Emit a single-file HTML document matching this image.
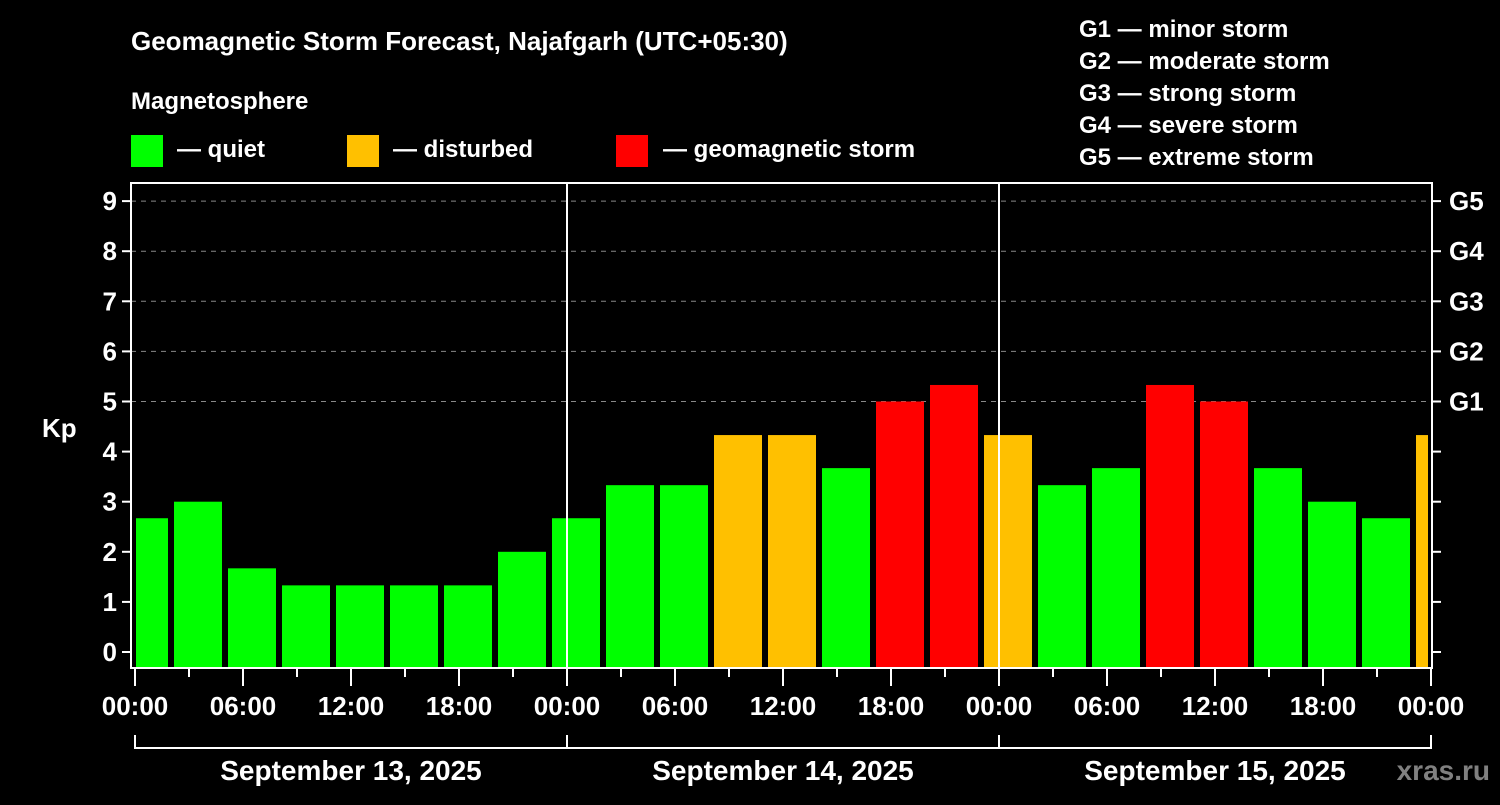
<!DOCTYPE html>
<html><head><meta charset="utf-8"><style>
body{margin:0;background:#000;width:1500px;height:800px;overflow:hidden;font-family:"Liberation Sans",sans-serif}
svg text{font-family:"Liberation Sans",sans-serif;font-weight:bold;fill:#fff}
</style></head><body>
<svg id="c" width="1500" height="800">
<text x="131" y="50" font-size="26">Geomagnetic Storm Forecast, Najafgarh (UTC+05:30)</text>
<text x="131" y="109" font-size="24">Magnetosphere</text>
<rect x="131" y="135" width="32" height="32" fill="#00ff00"/>
<text x="177" y="157" font-size="24">— quiet</text>
<rect x="347" y="135" width="32" height="32" fill="#ffc000"/>
<text x="393" y="157" font-size="24">— disturbed</text>
<rect x="616" y="135" width="32" height="32" fill="#ff0000"/>
<text x="663" y="157" font-size="24">— geomagnetic storm</text>
<g font-size="24">
<text x="1079" y="37">G1 — minor storm</text>
<text x="1079" y="69">G2 — moderate storm</text>
<text x="1079" y="101">G3 — strong storm</text>
<text x="1079" y="133">G4 — severe storm</text>
<text x="1079" y="165">G5 — extreme storm</text>
</g>
<text x="42" y="437" font-size="26">Kp</text>
<g id="grid"></g><g id="bars"></g><g id="axes"></g>
<text x="1490" y="780" font-size="28" text-anchor="end" style="fill:#808080">xras.ru</text>
</svg>
<script>
const kpValues=[2.67,3,1.67,1.33,1.33,1.33,1.33,2,2.67,3.33,3.33,4.33,4.33,3.67,5,5.33,4.33,3.33,3.67,5.33,5,3.67,3,2.67,4.33];
const yTicks=[0,1,2,3,4,5,6,7,8,9];
const gLabels=["G1","G2","G3","G4","G5"];
const timeLabels=["00:00","06:00","12:00","18:00","00:00","06:00","12:00","18:00","00:00","06:00","12:00","18:00","00:00"];
const dayLabels=["September 13, 2025","September 14, 2025","September 15, 2025"];
const NS="http://www.w3.org/2000/svg";
const L=131,R=1432,T=183,B=668,X0=135,PXH=18;
const y=v=>652-50.1*v;
const x=h=>X0+h*PXH;
function mk(p,tag,a){const e=document.createElementNS(NS,tag);for(const k in a)e.setAttribute(k,a[k]);p.appendChild(e);return e;}
const grid=document.getElementById('grid'),bars=document.getElementById('bars'),axes=document.getElementById('axes');
yTicks.forEach(v=>{
 if(v>=5){const g=mk(grid,'line',{x1:L,x2:R,y1:y(v),y2:y(v),stroke:'#888','stroke-dasharray':'5,5','stroke-width':1});
 
 }
 const t=mk(axes,'line',{x1:L-9,x2:L,y1:y(v),y2:y(v),stroke:'#fff','stroke-width':2});
 
 
 const t2=mk(axes,'line',{x1:R,x2:R+9,y1:y(v),y2:y(v),stroke:'#fff','stroke-width':2});
 
 
 const lb=mk(axes,'text',{x:L-14,y:y(v)+9,'text-anchor':'end','font-size':26});lb.textContent=v;
 
 
});
gLabels.forEach((g,i)=>{const lb=mk(axes,'text',{x:R+17,y:y(5+i)+9,'font-size':26});lb.textContent=g;
 
 });
kpValues.forEach((v,i)=>{
 const c=X0+(0.5+3*i)*PXH; let x1=Math.max(c-24,136), x2=Math.min(c+24,1428);
 const col=v>=5?'#ff0000':(v>=4?'#ffc000':'#00ff00');
 const r=mk(bars,'rect',{x:x1,y:y(v),width:x2-x1,height:B-y(v),fill:col});
 
 
});
[1,2].forEach(d=>{const l=mk(axes,'line',{x1:x(24*d),x2:x(24*d),y1:T,y2:B,stroke:'#fff','stroke-width':2});
 
 });
const fr=mk(axes,'rect',{x:L,y:T,width:R-L,height:B-T,fill:'none',stroke:'#fff','stroke-width':2});


for(let h=0;h<=72;h+=3){const t=mk(axes,'line',{x1:x(h),x2:x(h),y1:B,y2:B+(h%6?9:18),stroke:'#fff','stroke-width':2});
 
 }
timeLabels.forEach((s,i)=>{const lb=mk(axes,'text',{x:x(6*i),y:715,'text-anchor':'middle','font-size':26});lb.textContent=s;
 
 });
const br=mk(axes,'path',{d:`M${x(0)},735V748H${x(72)}V735M${x(24)},735V748M${x(48)},735V748`,stroke:'#fff','stroke-width':2,fill:'none'});


dayLabels.forEach((s,i)=>{const lb=mk(axes,'text',{x:x(24*i+12),y:780,'text-anchor':'middle','font-size':28});lb.textContent=s;
 
 });
</script>
</body></html>
